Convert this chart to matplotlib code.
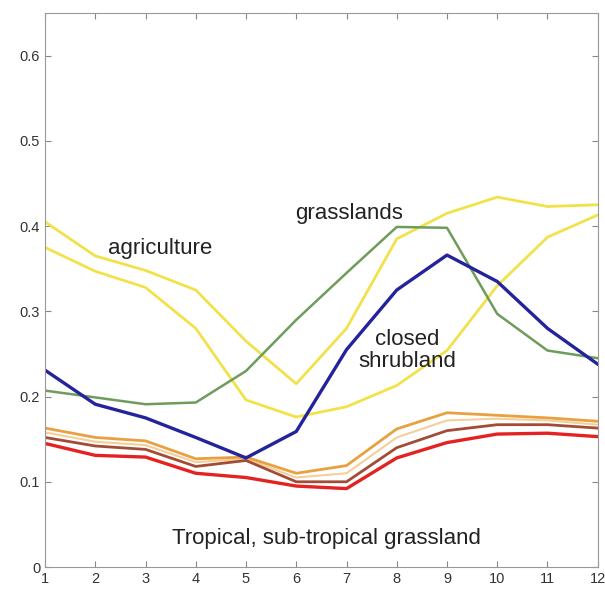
import numpy as np
import matplotlib.pyplot as plt

plt.rcParams['font.family'] = ['Liberation Sans', 'DejaVu Sans']

## months
months = np.arange(1, 13)

## albedo curves
agri_upper = [0.405, 0.365, 0.348, 0.325, 0.265, 0.215, 0.28, 0.385, 0.415, 0.434, 0.423, 0.425]
agri_lower = [0.375, 0.347, 0.328, 0.28, 0.196, 0.176, 0.188, 0.213, 0.254, 0.33, 0.387, 0.413]
grass = [0.207, 0.199, 0.191, 0.193, 0.23, 0.29, 0.345, 0.399, 0.398, 0.297, 0.254, 0.245]
shrub = [0.231, 0.191, 0.175, 0.152, 0.128, 0.159, 0.255, 0.325, 0.366, 0.335, 0.28, 0.238]
trop_orange = [0.163, 0.152, 0.148, 0.127, 0.129, 0.11, 0.119, 0.162, 0.181, 0.178, 0.175, 0.171]
trop_peach = [0.158, 0.147, 0.143, 0.123, 0.127, 0.105, 0.11, 0.152, 0.172, 0.174, 0.172, 0.167]
trop_brown = [0.152, 0.142, 0.138, 0.118, 0.125, 0.1, 0.1, 0.14, 0.16, 0.167, 0.167, 0.163]
trop_red = [0.145, 0.131, 0.129, 0.11, 0.105, 0.095, 0.092, 0.128, 0.146, 0.156, 0.157, 0.153]

yticks = [0, 0.1, 0.2, 0.3, 0.4, 0.5, 0.6]
ytick_labels = ['0', '0.1', '0.2', '0.3', '0.4', '0.5', '0.6']

fig = plt.figure(figsize=(6.05, 5.92), dpi=100)
ax = fig.add_axes([0.0744, 0.0422, 0.9136, 0.9358])

ax.plot(months, agri_upper, color='#f2e24a', lw=2)
ax.plot(months, agri_lower, color='#f2e24a', lw=2)
ax.plot(months, grass, color='#6e9c5c', lw=1.8)
ax.plot(months, trop_peach, color='#f3cf9a', lw=1.5)
ax.plot(months, trop_orange, color='#e8a040', lw=2)
ax.plot(months, trop_brown, color='#a24c36', lw=2)
ax.plot(months, trop_red, color='#e52222', lw=2.4)
ax.plot(months, shrub, color='#23239c', lw=2.4)

txt = dict(fontsize=16, ha='center', va='center', color='#222222')
ax.text(3.29, 0.374, 'agriculture', **txt)
ax.text(7.05, 0.415, 'grasslands', **txt)
ax.text(8.2, 0.254, 'closed\nshrubland', linespacing=1.05, **txt)
ax.text(6.6, 0.034, 'Tropical, sub-tropical grassland', **txt)

ax.set_xlim(1, 12)
ax.set_ylim(0, 0.65)
ax.set_xticks(months)
ax.set_yticks(yticks)
ax.set_yticklabels(ytick_labels)
ax.tick_params(direction='in', top=True, right=True, length=4, labelsize=10.5,
               colors='#888888', labelcolor='#333333')
for s in ax.spines.values():
    s.set_color('#999999')

plt.savefig('out.png', dpi=100)
